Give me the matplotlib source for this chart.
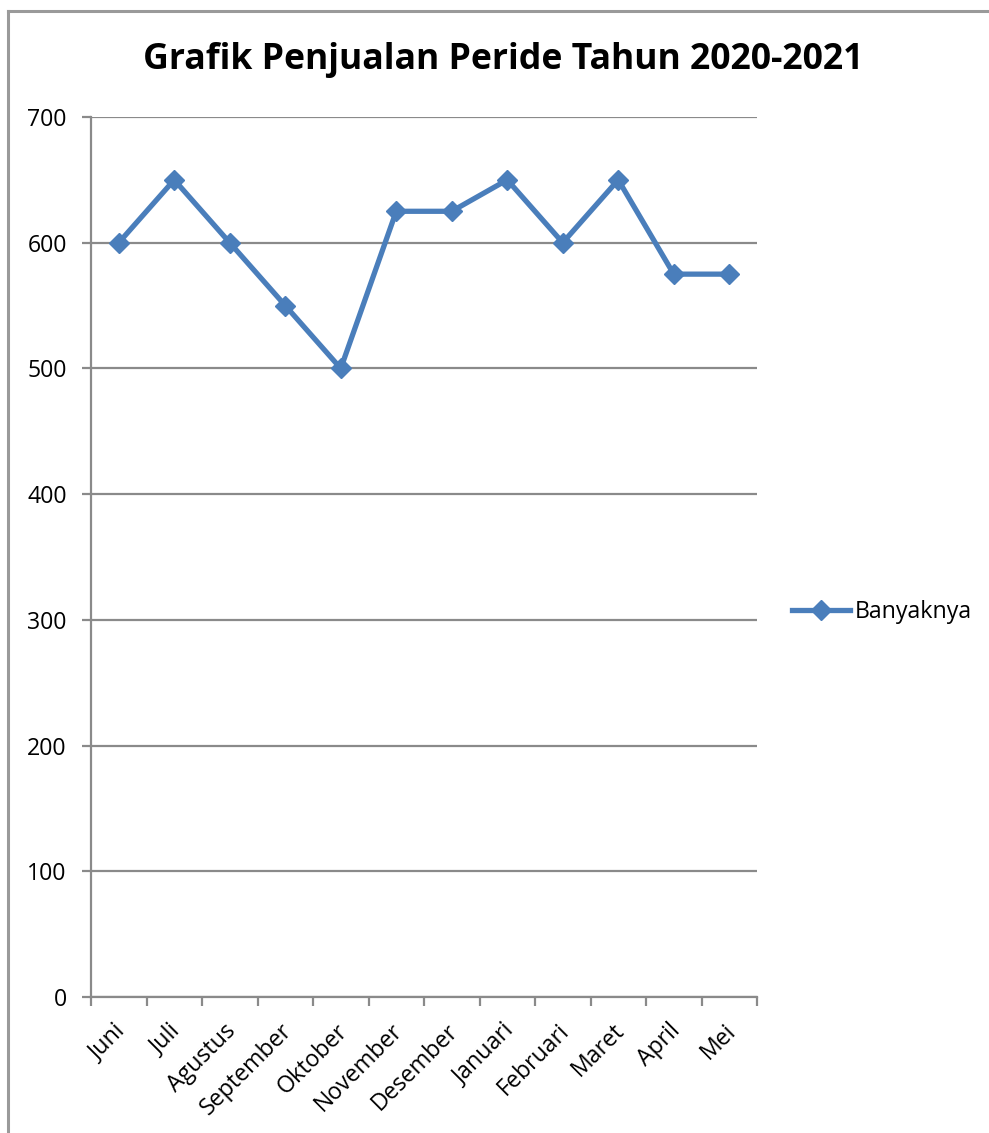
import matplotlib
matplotlib.use("Agg")
import matplotlib.pyplot as plt
from matplotlib.lines import Line2D
from matplotlib.transforms import ScaledTranslation

months = ["Juni", "Juli", "Agustus", "September", "Oktober", "November",
          "Desember", "Januari", "Februari", "Maret", "April", "Mei"]
banyaknya = [600, 650, 600, 550, 500, 625, 625, 650, 600, 650, 575, 575]
yticks = [0, 100, 200, 300, 400, 500, 600, 700]
title = "Grafik Penjualan Peride Tahun 2020-2021"
series_name = "Banyaknya"

W, H = 989, 1133
plt.rcParams['font.family'] = ['Open Sans', 'DejaVu Sans']
fig = plt.figure(figsize=(W / 100, H / 100), dpi=100)

# outer chart frame (left and top edges visible)
frame_col = "#9a9a9a"
fx, fy = 7.5 / W, 1 - 11 / H
fig.add_artist(Line2D([fx, fx], [0, fy], transform=fig.transFigure, color=frame_col, lw=2.2))
fig.add_artist(Line2D([fx, 1], [fy, fy], transform=fig.transFigure, color=frame_col, lw=2.2))

ax = fig.add_axes([91 / W, 1 - 997 / H, (757 - 91) / W, (997 - 117) / H])
x = list(range(len(months)))
line_col = "#4A7EBB"
ax.plot(x, banyaknya, color=line_col, lw=3.8, marker="D", markersize=10,
        markeredgecolor=line_col, markerfacecolor=line_col, label=series_name, zorder=3,
        solid_joinstyle="miter")

ax.set_xlim(-0.5, len(months) - 0.5)
ax.set_ylim(0, 700)
ax.set_yticks(yticks)
ax.set_yticklabels([str(v) for v in yticks], fontsize=16.7)
ax.yaxis.grid(True, color="#8a8a8a", lw=1.6)
ax.set_axisbelow(True)

# category ticks at boundaries, labels at centers
ax.set_xticks([i - 0.5 for i in range(len(months) + 1)])
ax.set_xticklabels([])
ax.set_xticks(x, minor=True)
ax.set_xticklabels(months, minor=True, rotation=45, ha="right", va="center",
                   rotation_mode="anchor", fontsize=16.7)
ax.tick_params(axis="x", which="minor", length=0, pad=22)
ax.tick_params(axis="x", which="major", length=6.5, width=1.6, color="#8a8a8a")
ax.tick_params(axis="y", length=6.5, width=1.6, color="#8a8a8a", pad=11)
offset = ScaledTranslation(3 / 100, 0, fig.dpi_scale_trans)
for lbl in ax.get_xticklabels(minor=True):
    lbl.set_transform(lbl.get_transform() + offset)

for s in ["top", "right"]:
    ax.spines[s].set_visible(False)
for s in ["left", "bottom"]:
    ax.spines[s].set_color("#8a8a8a")
    ax.spines[s].set_linewidth(1.6)

fig.text(503 / W, 1 - 60 / H, title, ha="center", va="center", fontsize=25.7, fontweight="bold")

leg = fig.legend(loc="center left", bbox_to_anchor=(792 / W, 1 - 612 / H), frameon=False,
                 fontsize=16.7, handlelength=2.5, handletextpad=0.2, borderaxespad=0,
                 borderpad=0)

fig.savefig("out.png", dpi=100)
